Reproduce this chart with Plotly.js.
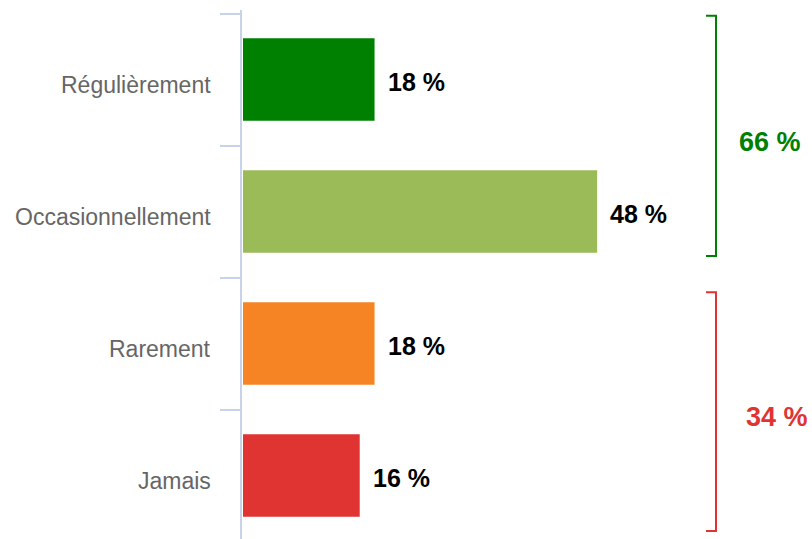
<!DOCTYPE html>
<html>
<head>
<meta charset="utf-8">
<script src="https://cdn.plot.ly/plotly-3.0.1.min.js"></script>
<style>html,body{margin:0;padding:0;background:#fff;}#chart{width:812px;height:539px;}</style>
</head>
<body>
<div id="chart"></div>
<script>
// Data
var categories = ["Régulièrement", "Occasionnellement", "Rarement", "Jamais"];
var values = [18, 48, 18, 16];
var barColors = ["#008000", "#9bbb59", "#f68424", "#e03433"];
var groups = [
  {members: [0, 1], color: "#008000"},
  {members: [2, 3], color: "#e03433"}
];

var W = 812, H = 539, ML = 242, MR = 12, MT = 10, MB = 0;
var pw = W - ML - MR, ph = H - MT - MB;
var step = 132;               // pixels per category
var firstBoundaryPx = 13.5;   // pixel position of the first category boundary
function px2paperX(p) { return (p - ML) / pw; }
function px2paperY(p) { return (H - MB - p) / ph; }
var rangeTop = -0.5 - (firstBoundaryPx - MT) / step;
var rangeBottom = rangeTop + ph / step;

var trace = {
  type: "bar",
  orientation: "h",
  x: values,
  y: categories,
  marker: {color: barColors, line: {color: "#ffffff", width: 2}},
  hoverinfo: "none"
};

var annotations = values.map(function (v, i) {
  return {
    x: v, y: categories[i], xref: "x", yref: "y",
    text: v + " %", showarrow: false,
    xanchor: "left", yanchor: "middle", xshift: 10, yshift: -2,
    font: {family: "Liberation Sans, Arial, sans-serif", size: 25, color: "#000000", weight: "bold"}
  };
});

// Category labels
categories.forEach(function (c) {
  annotations.push({
    x: px2paperX(213), y: c, xref: "paper", yref: "y",
    text: c, showarrow: false, xanchor: "right", yanchor: "middle", yshift: -5,
    font: {family: "Liberation Sans, Arial, sans-serif", size: 23, color: "#666666"}
  });
});

// Brackets (geometry in pixels of the figure)
var bracketPx = [
  {top: 15.7, bottom: 256, labelX: 770, labelY: 141.5},
  {top: 292.3, bottom: 531, labelX: 777, labelY: 417}
];
var shapes = [];
groups.forEach(function (g, gi) {
  var b = bracketPx[gi];
  var total = g.members.reduce(function (s, k) { return s + values[k]; }, 0);
  var x1 = px2paperX(706), x2 = px2paperX(716);
  var y1 = px2paperY(b.top), y2 = px2paperY(b.bottom);
  shapes.push({
    type: "path", xref: "paper", yref: "paper",
    path: "M " + x1 + "," + y1 + " L " + x2 + "," + y1 + " L " + x2 + "," + y2 + " L " + x1 + "," + y2,
    line: {color: g.color, width: 2}
  });
  annotations.push({
    x: px2paperX(b.labelX), y: px2paperY(b.labelY), xref: "paper", yref: "paper",
    text: total + " %", showarrow: false, xanchor: "center", yanchor: "middle",
    font: {family: "Liberation Sans, Arial, sans-serif", size: 27, color: g.color, weight: "bold"}
  });
});

var layout = {
  width: W, height: H,
  margin: {l: ML, r: MR, t: MT, b: MB, pad: 0},
  paper_bgcolor: "#ffffff", plot_bgcolor: "#ffffff",
  showlegend: false,
  bargap: 0.361,
  xaxis: {range: [0, 75.2], visible: false, fixedrange: true},
  yaxis: {
    type: "category",
    range: [rangeBottom, rangeTop],
    showline: true, linecolor: "#c9d3e8", linewidth: 2,
    ticks: "outside", tickson: "boundaries", ticklen: 20, tickwidth: 2, tickcolor: "#c9d3e8",
    showgrid: false, zeroline: false,
    showticklabels: false,
    layer: "below traces",
    fixedrange: true
  },
  shapes: shapes,
  annotations: annotations
};

Plotly.newPlot("chart", [trace], layout, {displayModeBar: false, staticPlot: true});
</script>
</body>
</html>
